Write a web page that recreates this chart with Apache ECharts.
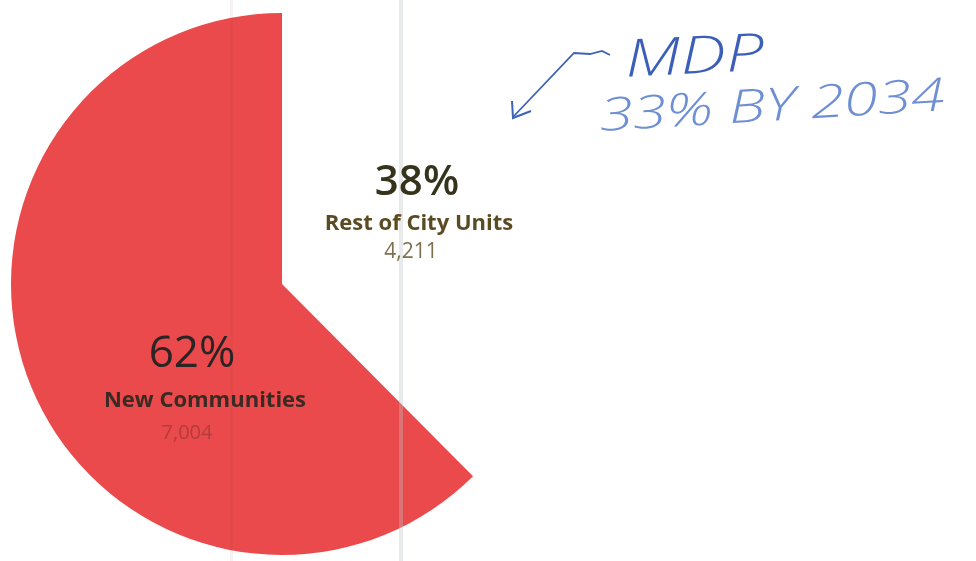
<!DOCTYPE html>
<html>
<head>
<meta charset="utf-8">
<script src="https://cdn.jsdelivr.net/npm/echarts@6/dist/echarts.min.js"></script>
<style>
html,body{margin:0;padding:0;background:#fff;}
#main{width:976px;height:561px;}
</style>
</head>
<body>
<div id="main"></div>
<script>
const categories = ['Rest of City Units', 'New Communities'];
const values = [4211, 7004];
const percents = ['38%', '62%'];
const valueLabels = ['4,211', '7,004'];
const sliceColors = ['#ffffff', '#ea4a4b'];
const noteLines = ['MDP', '33% BY 2034'];

const chart = echarts.init(document.getElementById('main'));
const font = '"Open Sans", "Noto Sans", sans-serif';

function t(x, y, text, fontSpec, color) {
  return { type: 'text', x: x, y: y, z: 100,
    style: { text: text, font: fontSpec + ' ' + font, fill: color, textAlign: 'center', textVerticalAlign: 'middle' } };
}

function hand(x, y, text, size, color, rot, sx) {
  return { type: 'text', x: x, y: y, rotation: rot || 0, scaleX: sx, z: 100,
    style: { text: text, font: 'italic 300 ' + size + 'px "Open Sans", sans-serif', fill: color, textVerticalAlign: 'top' } };
}

chart.setOption({
  animation: false,
  backgroundColor: '#ffffff',
  series: [{
    type: 'pie',
    center: [282, 284],
    radius: [0, 271],
    startAngle: 90,
    clockwise: true,
    silent: true,
    label: { show: false },
    labelLine: { show: false },
    itemStyle: { borderWidth: 0 },
    data: categories.map((c, i) => ({ name: c, value: values[i], itemStyle: { color: sliceColors[i] } }))
  }],
  graphic: [
    { type: 'rect', z: 50, shape: { x: 399, y: 0, width: 4, height: 561 }, style: { fill: 'rgba(190,195,200,0.35)' } },
    { type: 'rect', z: 50, shape: { x: 230, y: 0, width: 3, height: 561 }, style: { fill: 'rgba(150,60,60,0.07)' } },
    t(417, 183, percents[0], '600 42px', '#35331c'),
    t(419, 224, categories[0], 'bold 22px', '#5a4b22'),
    t(411, 252, valueLabels[0], '21px', '#7c7050'),
    t(192, 354, percents[1], '44px', '#2b2424'),
    t(205, 401, categories[1], 'bold 22px', '#3a2a24'),
    t(187, 433, valueLabels[1], '20px', '#b43c3c'),
    { type: 'polyline', z: 100, shape: { points: [[610, 55], [602, 51], [590, 54], [574, 53], [514, 116]] }, style: { stroke: '#3d63b8', lineWidth: 1.8, fill: null } },
    { type: 'polyline', z: 100, shape: { points: [[512, 101], [513, 118], [531, 111]] }, style: { stroke: '#3d63b8', lineWidth: 2, fill: null } },
    hand(624, 36, noteLines[0], 52, '#3b5fb8', 0.05, 1.3),
    hand(598, 95, noteLines[1], 46, '#6f8fd4', 0.06, 1.32)
  ]
});
</script>
</body>
</html>
